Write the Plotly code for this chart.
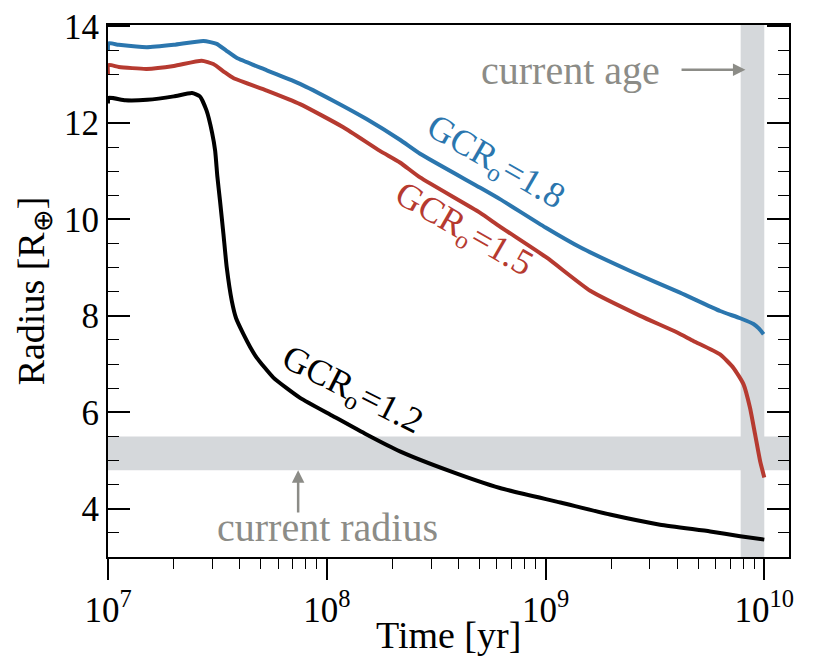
import numpy as np
import plotly.graph_objects as go

# radius evolution for three initial gas-to-core ratios
t_12 = [1.0e7, 1.005e7, 1.20e7, 1.51e7, 2.0e7, 2.42e7, 2.63e7, 2.82e7, 2.99e7, 3.09e7,
        3.16e7, 3.25e7, 3.37e7, 3.49e7, 3.68e7, 3.85e7, 4.16e7, 4.47e7, 4.79e7, 5.70e7,
        7.55e7, 1.07e8, 1.52e8, 2.16e8, 3.66e8, 6.19e8, 1.17e9, 1.97e9, 3.34e9,
        5.66e9, 7.76e9, 1.0e10]
r_12 = [12.40, 12.52, 12.47, 12.48, 12.55, 12.62, 12.55, 12.26, 11.80, 11.42,
        10.90, 10.39, 9.70, 9.00, 8.31, 7.95, 7.62, 7.35, 7.13, 6.72,
        6.30, 5.92, 5.54, 5.19, 4.78, 4.43, 4.13, 3.88, 3.67,
        3.53, 3.43, 3.36]

t_15 = [1.0e7, 1.005e7, 1.12e7, 1.50e7, 2.0e7, 2.68e7, 3.03e7, 3.39e7, 3.74e7, 5.32e7,
        7.55e7, 1.19e8, 1.75e8, 2.16e8, 2.67e8, 5.01e8, 6.19e8, 1.01e9, 1.60e9, 2.71e9,
        3.98e9, 4.74e9, 6.28e9, 7.23e9, 8.04e9, 8.61e9, 9.08e9, 9.57e9, 1.0e10]
r_15 = [13.00, 13.20, 13.16, 13.12, 13.18, 13.29, 13.22, 13.06, 12.93, 12.67,
        12.39, 11.91, 11.42, 11.18, 10.87, 10.14, 9.85, 9.21, 8.52, 8.00,
        7.66, 7.48, 7.20, 6.92, 6.58, 6.09, 5.54, 4.99, 4.65]

t_18 = [1.0e7, 1.005e7, 1.12e7, 1.50e7, 2.0e7, 2.73e7, 3.14e7, 3.47e7, 3.87e7, 5.32e7,
        7.55e7, 1.07e8, 1.52e8, 2.16e8, 2.67e8, 5.01e8, 6.19e8, 1.0e9, 1.44e9, 2.44e9,
        4.12e9, 6.28e9, 7.76e9, 8.93e9, 9.44e9, 9.93e9]
r_18 = [13.50, 13.65, 13.62, 13.57, 13.62, 13.70, 13.64, 13.50, 13.35, 13.09,
        12.81, 12.46, 12.08, 11.65, 11.36, 10.66, 10.42, 9.83, 9.42, 8.93,
        8.48, 8.10, 7.95, 7.83, 7.74, 7.62]

# observed constraints
radius_band = [4.8, 5.5]
age_band = [7.8e9, 1.0e10]

y_ticks = [4, 6, 8, 10, 12, 14]
x_ticks = [1e7, 1e8, 1e9, 1e10]
x_ticktext = ["10<sup>7</sup>", "10<sup>8</sup>", "10<sup>9</sup>", "10<sup>10</sup>"]
x_minor = [m * 10.0 ** d for d in (7, 8, 9) for m in range(2, 10)]

FONT = "Liberation Serif"
GREY = "#8c8c87"
BAND = "#d5d8db"
BLUE = "#2b76ae"
RED = "#b63a30"

fig = go.Figure()

fig.add_shape(type="rect", xref="x domain", yref="y", x0=0, x1=1,
              y0=radius_band[0], y1=radius_band[1],
              fillcolor=BAND, line_width=0, layer="below")
fig.add_shape(type="rect", xref="x", yref="y domain", x0=age_band[0], x1=age_band[1],
              y0=0, y1=1, fillcolor=BAND, line_width=0, layer="below")

for t, r, c in [(t_18, r_18, BLUE), (t_15, r_15, RED), (t_12, r_12, "black")]:
    fig.add_trace(go.Scatter(x=t, y=r, mode="lines",
                             line=dict(color=c, width=4, shape="spline", smoothing=0.5)))

# curve labels (annotation positions on a log axis are in log10 units)
fig.add_annotation(x=np.log10(5.9e8), y=11.155, text="GCR<sub>o</sub>=1.8", showarrow=False,
                   textangle=30, font=dict(family=FONT, size=36, color=BLUE))
fig.add_annotation(x=np.log10(4.2e8), y=9.76, text="GCR<sub>o</sub>=1.5", showarrow=False,
                   textangle=30, font=dict(family=FONT, size=36, color=RED))
fig.add_annotation(x=np.log10(1.31e8), y=6.44, text="GCR<sub>o</sub>=1.2", showarrow=False,
                   textangle=27, font=dict(family=FONT, size=36, color="black"))

# current age / current radius markers
fig.add_annotation(x=np.log10(1.3e9), y=13.08, text="current age", showarrow=False,
                   font=dict(family=FONT, size=40, color=GREY))
fig.add_annotation(x=np.log10(8.2e9), y=13.1, ax=np.log10(4.12e9), ay=13.1,
                   axref="x", ayref="y", text="", showarrow=True,
                   arrowhead=2, arrowsize=1, arrowwidth=2.5, arrowcolor=GREY)
fig.add_annotation(x=np.log10(1.01e8), y=3.62, text="current radius", showarrow=False,
                   font=dict(family=FONT, size=40, color=GREY))
fig.add_annotation(x=np.log10(7.4e7), y=4.8, ax=np.log10(7.4e7), ay=3.89,
                   axref="x", ayref="y", text="", showarrow=True,
                   arrowhead=2, arrowsize=1, arrowwidth=2.5, arrowcolor=GREY)

# x axis title placed by hand to sit closer to the tick labels
fig.add_annotation(x=0.5, y=-0.146, xref="x domain", yref="y domain", text="Time [yr]",
                   showarrow=False, yanchor="middle",
                   font=dict(family=FONT, size=38, color="black"))

fig.update_xaxes(type="log", range=[7, 10.113], tickvals=x_ticks, ticktext=x_ticktext,
                 ticks="outside", ticklen=21, tickwidth=1.5, tickcolor="black",
                 minor=dict(ticks="outside", ticklen=10, tickwidth=1.2, tickcolor="black",
                            tickvals=x_minor, showgrid=False),
                 showline=True, linecolor="black", linewidth=2, mirror=True,
                 showgrid=False, zeroline=False, automargin=False,
                 ticklabeloverflow="allow",
                 tickfont=dict(family=FONT, size=35, color="black"))
fig.update_yaxes(range=[3, 14.03], tickvals=y_ticks,
                 ticks="inside", ticklen=22, tickwidth=1.5, tickcolor="black",
                 minor=dict(ticks="inside", ticklen=11, tickwidth=1.2, tickcolor="black",
                            dtick=0.5, showgrid=False),
                 showline=True, linecolor="black", linewidth=2, mirror="allticks",
                 showgrid=False, zeroline=False, automargin=False,
                 ticklabeloverflow="allow",
                 tickfont=dict(family=FONT, size=35, color="black"),
                 title=dict(text="Radius [R<sub>⊕</sub>]",
                            font=dict(family=FONT, size=38, color="black"), standoff=8))

# page body adds an 8px offset, so the figure is sized to fit inside the window
fig.update_layout(width=822, height=656, showlegend=False,
                  plot_bgcolor="white", paper_bgcolor="white",
                  margin=dict(l=100, r=41, t=17, b=107))

fig.write_html("out.html")
